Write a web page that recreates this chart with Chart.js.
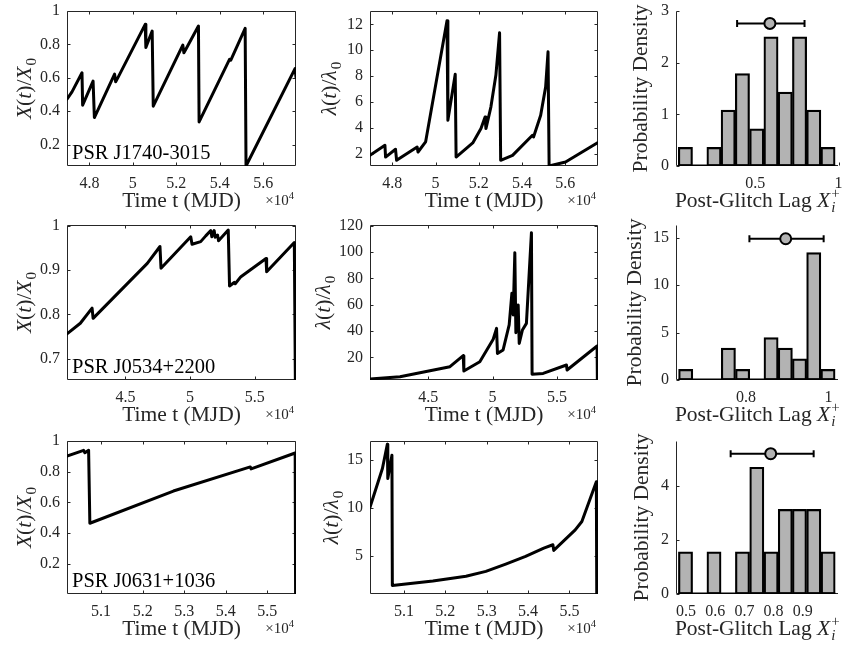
<!DOCTYPE html>
<html lang="en">
<head>
<meta charset="UTF-8">
<title>Glitch lag</title>
<script src="https://cdn.jsdelivr.net/npm/chart.js"></script>
<style>
  body { margin: 0; background: #fff; }
  #fig { position: relative; width: 846px; height: 651px; }
  #fig canvas { position: absolute; }
</style>
</head>
<body>
<div id="fig"></div>
<script>
// time axis in units of 1e4 MJD

// PSR J1740-3015
const j1740XTime = [4.697, 4.720, 4.766, 4.769, 4.817, 4.823, 4.916, 4.921, 4.935, 5.057, 5.060, 5.089, 5.094, 5.230, 5.235, 5.246, 5.302, 5.305, 5.445, 5.451, 5.517, 5.521, 5.747, 5.751];
const j1740X     = [0.472, 0.516, 0.630, 0.436, 0.580, 0.362, 0.622, 0.576, 0.610, 0.920, 0.782, 0.880, 0.430, 0.796, 0.750, 0.776, 0.910, 0.336, 0.710, 0.706, 0.896, 0.072, 0.656, 0.602];
const j1740LTime = [4.697, 4.766, 4.769, 4.815, 4.820, 4.915, 4.919, 4.954, 5.053, 5.057, 5.091, 5.095, 5.172, 5.210, 5.229, 5.233, 5.256, 5.279, 5.296, 5.301, 5.356, 5.448, 5.453, 5.486, 5.509, 5.520, 5.525, 5.601, 5.747];
const j1740L     = [1.88, 2.66, 1.75, 2.35, 1.50, 2.53, 2.14, 2.92, 12.28, 4.59, 8.15, 1.75, 2.84, 3.95, 4.85, 3.95, 5.63, 8.08, 11.35, 1.50, 1.88, 3.43, 3.30, 4.98, 7.17, 9.88, 1.06, 1.37, 2.84];

// PSR J0534+2200
const crabXTime = [4.048, 4.151, 4.242, 4.250, 4.669, 4.767, 4.775, 5.005, 5.015, 5.082, 5.121, 5.160, 5.168, 5.186, 5.194, 5.212, 5.220, 5.295, 5.305, 5.341, 5.349, 5.393, 5.587, 5.592, 5.806, 5.814];
const crabX     = [0.756, 0.780, 0.814, 0.791, 0.915, 0.953, 0.904, 0.975, 0.958, 0.964, 0.977, 0.989, 0.975, 0.989, 0.974, 0.979, 0.966, 0.990, 0.864, 0.872, 0.869, 0.885, 0.926, 0.896, 0.962, 0.653];
const crabLTime = [4.048, 4.281, 4.669, 4.772, 4.777, 4.901, 5.005, 5.031, 5.038, 5.082, 5.129, 5.150, 5.160, 5.173, 5.181, 5.199, 5.207, 5.232, 5.263, 5.302, 5.307, 5.393, 5.574, 5.579, 5.812, 5.814];
const crabL     = [3.5, 5.3, 12.9, 21.3, 9.6, 16.7, 33.7, 42.0, 23.0, 25.6, 44.6, 68.6, 52.2, 99.5, 38.7, 59.7, 30.6, 40.8, 45.8, 114.7, 7.1, 7.8, 14.2, 10.4, 28.6, 2.8];

// PSR J0631+1036
const j0631XTime = [5.018, 5.058, 5.061, 5.070, 5.073, 5.274, 5.459, 5.461, 5.567, 5.568];
const j0631X     = [0.901, 0.939, 0.924, 0.939, 0.464, 0.674, 0.831, 0.818, 0.922, 0.003];
const j0631LTime = [5.018, 5.048, 5.060, 5.061, 5.071, 5.072, 5.170, 5.250, 5.298, 5.346, 5.394, 5.438, 5.460, 5.462, 5.514, 5.530, 5.565, 5.566];
const j0631L     = [10.07, 14.13, 16.67, 13.09, 15.52, 1.88, 2.36, 2.85, 3.37, 4.13, 4.93, 5.80, 6.15, 5.56, 7.71, 8.58, 12.74, 1.0];

// post-glitch lag histograms (bin edges, probability density) and mean with spread
const j1740Edges   = [0.038, 0.123, 0.209, 0.295, 0.380, 0.466, 0.552, 0.637, 0.723, 0.809, 0.894, 0.980];
const j1740Density = [0.36, 0, 0.36, 1.08, 1.79, 0.72, 2.50, 1.43, 2.50, 1.08, 0.36];
const j1740Lag     = { mean: 0.588, lo: 0.391, hi: 0.796, at: 2.76 };
const crabEdges    = [0.636, 0.671, 0.705, 0.740, 0.774, 0.809, 0.843, 0.878, 0.912, 0.947, 0.981, 1.016];
const crabDensity  = [1.12, 0, 0, 3.36, 1.12, 0, 4.48, 3.36, 2.24, 13.44, 1.12];
const crabLag      = { mean: 0.896, lo: 0.808, hi: 0.988, at: 14.9 };
const j0631Edges   = [0.474, 0.523, 0.572, 0.620, 0.669, 0.718, 0.767, 0.816, 0.864, 0.913, 0.962, 1.011];
const j0631Density = [1.56, 0, 1.56, 0, 1.56, 4.69, 1.56, 3.13, 3.13, 3.13, 1.56];
const j0631Lag     = { mean: 0.790, lo: 0.653, hi: 0.937, at: 5.19 };

// tick values
const row1TimeTicks = [4.8, 5, 5.2, 5.4, 5.6];
const row2TimeTicks = [4.5, 5, 5.5];
const row3TimeTicks = [5.1, 5.2, 5.3, 5.4, 5.5];
const j1740XTicks = [0.2, 0.4, 0.6, 0.8, 1];
const j1740LTicks = [2, 4, 6, 8, 10, 12];
const crabXTicks  = [0.7, 0.8, 0.9, 1];
const crabLTicks  = [20, 40, 60, 80, 100, 120];
const j0631XTicks = [0.2, 0.4, 0.6, 0.8, 1];
const j0631LTicks = [5, 10, 15];
const j1740LagTicks = [0.5, 1];
const crabLagTicks  = [0.8, 1];
const j0631LagTicks = [0.5, 0.6, 0.7, 0.8, 0.9];
const j1740DensTicks = [0, 1, 2, 3];
const crabDensTicks  = [0, 5, 10, 15];
const j0631DensTicks = [0, 2, 4];

const SERIF = '"Liberation Serif", "Times New Roman", serif';
const INK = '#262626';

const xRatioLabel = [{ t: 'X', it: true }, { t: '(' }, { t: 't', it: true }, { t: ')/' }, { t: 'X', it: true }, { t: '0', sub: true }];
const lRatioLabel = [{ t: 'λ', it: true }, { t: '(' }, { t: 't', it: true }, { t: ')/' }, { t: 'λ', it: true }, { t: '0', sub: true }];
const timeLabel   = [{ t: 'Time t (MJD)' }];
const densLabel   = [{ t: 'Probability Density' }];
const lagLabel    = [{ t: 'Post-Glitch Lag ' }, { t: 'X', it: true }, { t: 'i', it: true, sub: true, sup: '+' }];

function font(size, it) { return (it ? 'italic ' : '') + size + 'px ' + SERIF; }

// mixed italic / subscript text centred on (cx, cy)
function drawRich(ctx, parts, cx, cy, size, rot) {
  const small = size * 0.7;
  const items = parts.map(p => {
    if (p.sub) {
      ctx.font = font(small, p.it);
      let w = ctx.measureText(p.t).width;
      if (p.sup) { ctx.font = font(small, false); w = Math.max(w, ctx.measureText(p.sup).width); }
      return { p, w: w + 1 };
    }
    ctx.font = font(size, p.it);
    return { p, w: ctx.measureText(p.t).width };
  });
  const total = items.reduce((s, i) => s + i.w, 0);
  ctx.save();
  ctx.translate(cx, cy);
  ctx.rotate(rot || 0);
  ctx.fillStyle = INK;
  ctx.textBaseline = 'alphabetic';
  ctx.textAlign = 'left';
  let x = -total / 2;
  const base = size * 0.33;
  items.forEach(({ p, w }) => {
    if (p.sub) {
      ctx.font = font(small, p.it);
      ctx.fillText(p.t, x + 1, base + size * 0.22);
      if (p.sup) { ctx.font = font(small, false); ctx.fillText(p.sup, x + 1, base - size * 0.42); }
    } else {
      ctx.font = font(size, p.it);
      ctx.fillText(p.t, x, base);
    }
    x += w;
  });
  ctx.restore();
}

// axis frame, inward ticks, axis titles and the pulsar name
function decorPlugin(p, boxed, originX) {
  return {
    id: 'decor',
    beforeDatasetsDraw(chart) {
      const { ctx, chartArea: a, scales: { x, y } } = chart;
      const tl = 3;
      ctx.save();
      ctx.strokeStyle = INK;
      ctx.lineWidth = 1;
      ctx.beginPath();
      const L = a.left + 0.5, R = a.right - 0.5, T = a.top + 0.5, B = a.bottom - 0.5;
      if (boxed) {
        ctx.rect(L, T, R - L, B - T);
      } else {
        ctx.moveTo(L, T); ctx.lineTo(L, B); ctx.lineTo(R, B);
      }
      x.ticks.forEach(t => {
        const px = Math.round(x.getPixelForValue(t.value)) + 0.5;
        ctx.moveTo(px, B); ctx.lineTo(px, B - tl);
        if (boxed) { ctx.moveTo(px, T); ctx.lineTo(px, T + tl); }
      });
      y.ticks.forEach(t => {
        const py = Math.round(y.getPixelForValue(t.value)) + 0.5;
        ctx.moveTo(L, py); ctx.lineTo(L + tl, py);
        if (boxed) { ctx.moveTo(R, py); ctx.lineTo(R - tl, py); }
      });
      ctx.stroke();
      ctx.restore();
    },
    afterDraw(chart) {
      const { ctx, chartArea: a } = chart;
      const midY = (a.top + a.bottom) / 2;
      drawRich(ctx, p.yLabel, p.yLabelX - originX, midY, 21.5, -Math.PI / 2);
      drawRich(ctx, boxed ? timeLabel : lagLabel, (a.left + a.right) / 2, a.bottom + 34, 21.5, 0);
      if (boxed) {
        // exponent of the time axis
        ctx.save();
        ctx.fillStyle = INK;
        ctx.textBaseline = 'alphabetic';
        ctx.textAlign = 'right';
        ctx.font = font(10.5, false);
        const w4 = ctx.measureText('4').width;
        ctx.fillText('4', a.right - 2, a.bottom + 33);
        ctx.font = font(15, false);
        ctx.fillText('\u00d710', a.right - 2 - w4, a.bottom + 39);
        ctx.restore();
      }
      if (p.name) {
        ctx.save();
        ctx.fillStyle = '#000';
        ctx.font = font(20.5, false);
        ctx.textBaseline = 'alphabetic';
        ctx.textAlign = 'left';
        ctx.fillText(p.name, a.left + 5, a.bottom - 7);
        ctx.restore();
      }
    }
  };
}

// plot rectangles in page pixels
const rows = [[11, 166], [225, 380], [441, 594]];
const cols = [[67, 296], [370, 598], [676, 840]];
const canvasRows = [[0, 212], [212, 216], [428, 223]];
const canvasCols = [[0, 300], [300, 300], [600, 246]];

const panels = [
  { r: 0, c: 0, t: j1740XTime, v: j1740X, xr: [4.697, 5.751], yr: [0.072, 1], xt: row1TimeTicks, yt: j1740XTicks, yLabel: xRatioLabel, yLabelX: 24, name: 'PSR J1740-3015' },
  { r: 0, c: 1, t: j1740LTime, v: j1740L, xr: [4.697, 5.751], yr: [1.06, 13.03], xt: row1TimeTicks, yt: j1740LTicks, yLabel: lRatioLabel, yLabelX: 329 },
  { r: 0, c: 2, edges: j1740Edges, dens: j1740Density, lag: j1740Lag, xr: [0.024, 1.0], yr: [0, 3], xt: j1740LagTicks, yt: j1740DensTicks, yLabel: densLabel, yLabelX: 640 },
  { r: 1, c: 0, t: crabXTime, v: crabX, xr: [4.048, 5.819], yr: [0.652, 1.0015], xt: row2TimeTicks, yt: crabXTicks, yLabel: xRatioLabel, yLabelX: 24, name: 'PSR J0534+2200' },
  { r: 1, c: 1, t: crabLTime, v: crabL, xr: [4.048, 5.819], yr: [2.8, 120.5], xt: row2TimeTicks, yt: crabLTicks, yLabel: lRatioLabel, yLabelX: 323 },
  { r: 1, c: 2, edges: crabEdges, dens: crabDensity, lag: crabLag, xr: [0.630, 1.024], yr: [0, 16.35], xt: crabLagTicks, yt: crabDensTicks, yLabel: densLabel, yLabelX: 634 },
  { r: 2, c: 0, t: j0631XTime, v: j0631X, xr: [5.018, 5.569], yr: [0.003, 1], xt: row3TimeTicks, yt: j0631XTicks, yLabel: xRatioLabel, yLabelX: 24, name: 'PSR J0631+1036' },
  { r: 2, c: 1, t: j0631LTime, v: j0631L, xr: [5.018, 5.569], yr: [1.0, 17.0], xt: row3TimeTicks, yt: j0631LTicks, yLabel: lRatioLabel, yLabelX: 331 },
  { r: 2, c: 2, edges: j0631Edges, dens: j0631Density, lag: j0631Lag, xr: [0.466, 1.022], yr: [0, 5.66], xt: j0631LagTicks, yt: j0631DensTicks, yLabel: densLabel, yLabelX: 641 }
];

const fig = document.getElementById('fig');

panels.forEach(p => {
  const [cx, cw] = canvasCols[p.c];
  const [cy, ch] = canvasRows[p.r];
  const [left, right] = cols[p.c];
  const [top, bottom] = rows[p.r];
  const boxed = p.c < 2;

  const canvas = document.createElement('canvas');
  canvas.width = cw; canvas.height = ch;
  canvas.style.left = cx + 'px'; canvas.style.top = cy + 'px';
  canvas.style.width = cw + 'px'; canvas.style.height = ch + 'px';
  fig.appendChild(canvas);

  const tickFont = { family: SERIF, size: 16 };
  const scales = {
    x: {
      type: 'linear', min: p.xr[0], max: p.xr[1], offset: false,
      grid: { display: false, drawTicks: false }, border: { display: false },
      ticks: { color: INK, font: tickFont, padding: 8, autoSkip: false, maxRotation: 0, callback: v => String(v) },
      afterBuildTicks: s => { s.ticks = p.xt.map(v => ({ value: v })); },
      afterFit: s => { s.height = cy + ch - bottom; s.paddingLeft = 0; s.paddingRight = 0; }
    },
    y: {
      type: 'linear', min: p.yr[0], max: p.yr[1],
      grid: { display: false, drawTicks: false }, border: { display: false },
      ticks: { color: INK, font: tickFont, padding: 7, autoSkip: false, callback: v => String(v) },
      afterBuildTicks: s => { s.ticks = p.yt.map(v => ({ value: v })); },
      afterFit: s => { s.width = left - cx; s.paddingTop = 0; s.paddingBottom = 0; }
    }
  };

  let config;
  if (boxed) {
    config = {
      type: 'scatter',
      data: { datasets: [{
        data: p.t.map((t, i) => ({ x: t, y: p.v[i] })),
        showLine: true, borderColor: '#000', borderWidth: 3,
        borderJoinStyle: 'round', borderCapStyle: 'round',
        pointRadius: 0, tension: 0
      }] }
    };
  } else {
    const centers = p.dens.map((d, i) => ({ x: (p.edges[i] + p.edges[i + 1]) / 2, y: d }));
    config = {
      type: 'bar',
      data: { datasets: [
        { type: 'scatter', data: [{ x: p.lag.mean, y: p.lag.at }], pointRadius: 5.5,
          pointBackgroundColor: '#b3b3b3', pointBorderColor: '#000', pointBorderWidth: 2 },
        { type: 'line', data: [{ x: p.lag.lo, y: p.lag.at }, { x: p.lag.hi, y: p.lag.at }],
          borderColor: '#000', borderWidth: 2, pointStyle: 'line', pointRotation: 90,
          pointRadius: 3.5, pointBorderWidth: 2, pointBorderColor: '#000' },
        { type: 'line', data: [{ x: p.edges[0], y: 0 }, { x: p.edges[p.edges.length - 1], y: 0 }],
          borderColor: '#000', borderWidth: 3, pointRadius: 0 },
        { type: 'bar', data: centers, backgroundColor: '#b3b3b3', borderColor: '#000',
          borderWidth: 2.2, borderSkipped: false, barPercentage: 1, categoryPercentage: 1 }
      ] }
    };
  }

  config.options = {
    responsive: false, animation: false, devicePixelRatio: 1,
    layout: { padding: { left: 0, bottom: 0, top: top - cy, right: cx + cw - right } },
    plugins: { legend: { display: false }, tooltip: { enabled: false } },
    scales
  };
  config.plugins = [decorPlugin(p, boxed, cx)];
  new Chart(canvas, config);
});
</script>
</body>
</html>
